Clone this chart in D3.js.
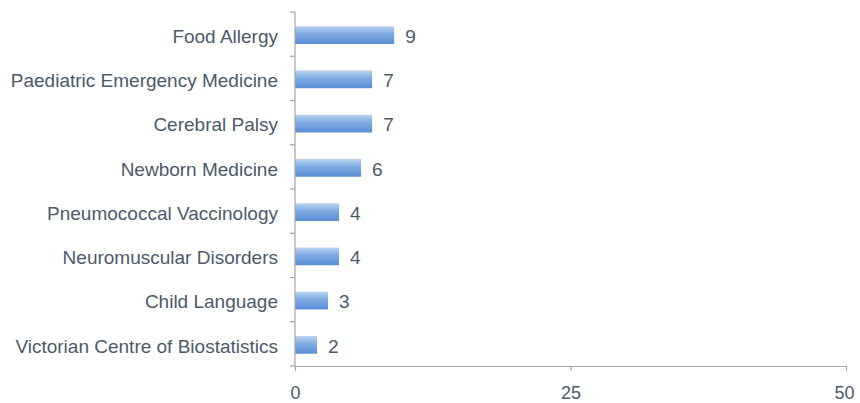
<!DOCTYPE html>
<html>
<head>
<meta charset="utf-8">
<script src="https://cdn.jsdelivr.net/npm/d3@7"></script>
<style>
  html, body { margin: 0; padding: 0; background: #ffffff; }
  svg { display: block; font-family: "Liberation Sans", Arial, sans-serif; }
</style>
</head>
<body>
<svg id="chart" width="860" height="403"></svg>
<script>
// Research groups and their counts
const categories = [
  "Food Allergy",
  "Paediatric Emergency Medicine",
  "Cerebral Palsy",
  "Newborn Medicine",
  "Pneumococcal Vaccinology",
  "Neuromuscular Disorders",
  "Child Language",
  "Victorian Centre of Biostatistics"
];
const values = [9, 7, 7, 6, 4, 4, 3, 2];
const xTicks = [0, 25, 50];

const svg = d3.select("#chart");
const margin = { left: 295, right: 14, top: 12, bottom: 37 };
const W = 860, H = 403;

const x = d3.scaleLinear().domain([0, 50]).range([margin.left, W - margin.right]);
const y = d3.scaleBand().domain(categories).range([margin.top, H - margin.bottom]).paddingInner(0.6).paddingOuter(0.3);

// Bar fill: light-to-deeper blue, top to bottom
const defs = svg.append("defs");
const grad = defs.append("linearGradient").attr("id", "barFill")
  .attr("x1", 0).attr("y1", 0).attr("x2", 0).attr("y2", 1);
grad.append("stop").attr("offset", "0%").attr("stop-color", "#b9d3f1");
grad.append("stop").attr("offset", "45%").attr("stop-color", "#7eaae2");
grad.append("stop").attr("offset", "100%").attr("stop-color", "#5a8dd4");

const axisColor = "#a6a6a6";
const textColor = "#4b5a6b";

// Bars
svg.append("g").selectAll("rect")
  .data(values)
  .join("rect")
  .attr("x", x(0))
  .attr("y", (d, i) => y(categories[i]) + 1)
  .attr("width", d => x(d) - x(0))
  .attr("height", y.bandwidth())
  .attr("fill", "url(#barFill)");

// Value labels
svg.append("g").selectAll("text")
  .data(values)
  .join("text")
  .attr("x", d => x(d) + 11)
  .attr("y", (d, i) => y(categories[i]) + y.bandwidth() / 2 + 2)
  .attr("dy", "0.36em")
  .attr("font-size", 19)
  .attr("fill", textColor)
  .text(d => d);

// Category axis with ticks between bands
const bandEdges = d3.range(categories.length + 1).map(i => margin.top + i * ((H - margin.bottom - margin.top) / categories.length));
const gy = svg.append("g");
gy.append("line")
  .attr("x1", x(0)).attr("x2", x(0))
  .attr("y1", margin.top).attr("y2", H - margin.bottom)
  .attr("stroke", axisColor).attr("stroke-width", 1.2);
gy.selectAll("line.tick")
  .data(bandEdges)
  .join("line")
  .attr("class", "tick")
  .attr("x1", x(0) - 5).attr("x2", x(0))
  .attr("y1", d => d).attr("y2", d => d)
  .attr("stroke", axisColor).attr("stroke-width", 1.2);
gy.selectAll("text")
  .data(categories)
  .join("text")
  .attr("x", x(0) - 17)
  .attr("y", d => y(d) + y.bandwidth() / 2 + 2)
  .attr("dy", "0.36em")
  .attr("text-anchor", "end")
  .attr("font-size", 19)
  .attr("fill", textColor)
  .text(d => d);

// Value axis
const gx = svg.append("g").attr("transform", `translate(0,${H - margin.bottom})`)
  .call(d3.axisBottom(x).tickValues(xTicks).tickSize(5).tickPadding(15).tickSizeOuter(0));
gx.select(".domain").attr("stroke", axisColor).attr("stroke-width", 1.2);
gx.selectAll(".tick line").attr("stroke", axisColor).attr("stroke-width", 1.2);
gx.selectAll(".tick text")
  .attr("font-size", 18)
  .attr("fill", textColor)
  .attr("font-family", "Liberation Sans, Arial, sans-serif");
// keep the rightmost tick label inside the frame
gx.selectAll(".tick text").filter(d => d === 50).attr("text-anchor", "middle").attr("dx", -2);
</script>
</body>
</html>
